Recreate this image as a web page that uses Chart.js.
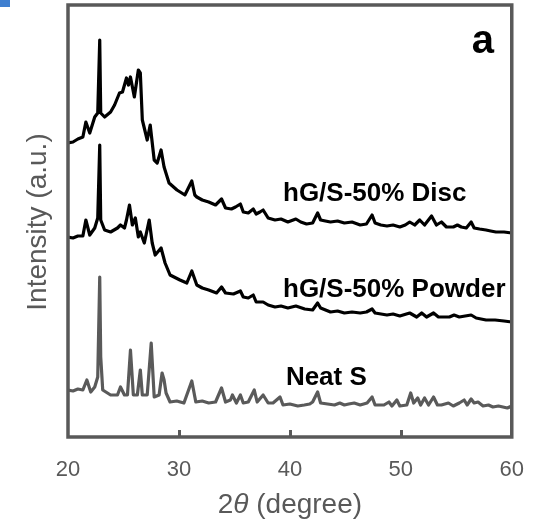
<!DOCTYPE html>
<html>
<head>
<meta charset="utf-8">
<script src="https://cdn.jsdelivr.net/npm/chart.js@4.4.1/dist/chart.umd.min.js"></script>
<style>
  html, body { margin: 0; padding: 0; background: #ffffff; }
  #wrap { width: 544px; height: 524px; position: relative; }
</style>
</head>
<body>
<div id="wrap"><canvas id="c" width="544" height="524"></canvas></div>
<script>
// ---- data (2θ in degrees, intensity in arbitrary units, curves already offset) ----
const xTicks = [20, 30, 40, 50, 60];

const discX = [20.00,20.45,20.89,21.34,21.61,21.96,22.41,22.68,22.86,22.95,23.30,23.84,24.20,24.64,24.91,25.27,25.45,25.63,25.98,26.34,26.52,26.70,27.14,27.41,27.77,28.04,28.39,28.66,29.11,29.82,30.54,31.16,31.43,31.61,32.10,32.68,33.30,33.84,34.20,34.73,35.10,35.54,35.80,36.25,36.70,36.96,37.30,37.59,38.04,38.66,39.20,39.82,40.54,40.98,41.50,42.05,42.50,42.77,43.20,43.66,44.30,44.91,45.60,46.34,46.90,47.41,47.68,48.20,48.75,49.30,49.91,50.40,50.80,51.25,51.70,52.14,52.77,53.21,53.66,54.11,54.73,55.10,55.45,55.90,56.34,56.61,57.10,57.68,58.10,58.57,59.30,60.00];
const discY = [294,295,298,300,315,304,320,324,397,324,320,325,332,344,345,359,352,360,340,367,364,317,297,312,277,274,287,270,254,247,242,256,242,240,237,235,232,238,229,228,230,233,225,224,228,223,225,227,219,217,218,215,218,215,213,214,224,217,216,215,216,214,215,212,213,222,214,212,211,212,210,212,215,212,217,212,221,212,215,210,210,212,210,209,215,209,208,207,206,205,205,204];

const powderX = [20.00,20.45,20.89,21.34,21.61,21.96,22.41,22.68,22.86,22.95,23.30,23.84,24.46,24.73,25.09,25.27,25.54,25.80,26.07,26.34,26.52,26.88,27.32,27.59,27.86,28.39,28.75,29.20,30.09,30.71,31.16,31.61,32.10,32.68,33.39,33.84,34.20,34.91,35.54,35.80,36.25,36.70,36.96,37.59,38.04,38.66,39.20,39.82,40.54,41.34,42.05,42.50,42.77,43.66,44.30,44.91,45.60,46.34,46.90,47.41,47.68,48.75,49.30,49.91,50.80,51.43,51.88,52.32,52.95,53.39,54.38,54.80,55.27,55.80,56.34,56.79,57.68,58.50,59.30,60.00];
const powderY = [200,199,201,201,217,202,209,219,292,217,207,205,209,212,209,217,232,212,219,200,205,194,217,194,182,189,174,162,157,154,166,152,149,147,144,150,144,143,146,140,139,142,135,135,132,130,131,129,131,128,127,134,129,125,126,124,125,124,125,128,124,122,123,121,124,120,124,120,124,120,120,122,120,121,122,119,117,117,116,115];

const neatX = [20.00,20.45,20.89,21.34,21.70,22.05,22.41,22.68,22.86,22.95,23.13,23.84,24.46,24.73,25.09,25.36,25.63,25.89,26.25,26.52,26.70,27.14,27.50,27.77,28.21,28.48,28.66,28.84,29.20,29.80,30.45,31.16,31.52,32.10,32.68,33.30,33.84,34.20,34.64,34.82,35.18,35.54,35.80,36.25,36.79,37.05,37.59,38.04,38.48,39.11,39.38,40.00,40.71,41.30,41.79,42.05,42.50,42.77,43.40,44.02,44.50,44.91,45.30,45.80,46.34,46.96,47.41,47.68,48.48,48.93,49.20,49.64,49.91,50.54,50.89,51.16,51.52,51.79,52.14,52.50,52.95,53.30,53.66,54.29,54.73,55.27,55.71,55.98,56.34,56.61,56.96,57.41,57.90,58.30,58.80,59.20,59.60,60.00];
const neatY = [47,46,48,47,57,45,50,60,160,80,47,42,42,50,42,42,87,42,42,67,42,42,94,40,42,64,57,44,35,36,34,56,35,36,34,35,49,35,37,42,34,42,34,35,47,35,42,34,34,40,32,33,31,32,33,35,45,34,33,32,34,32,33,34,32,34,40,32,32,35,31,37,31,32,44,34,39,32,39,32,40,32,32,34,31,34,37,32,38,34,35,31,32,30,31,30,29,31];

const seriesNames = ['hG/S-50% Disc', 'hG/S-50% Powder', 'Neat S'];
const labelX = [39.38, 39.38, 39.64];   // 2θ where each label starts
const labelY = [236, 140, 52];          // intensity at label baseline
const panelLetter = 'a';
const panelX = 56.4, panelY = 384;

const xTitleParts = ['2', 'θ', ' (degree)'];
const yTitle = 'Intensity (a.u.)';

const FONT = '"Liberation Sans", Arial, Helvetica, sans-serif';
const AXIS_GRAY = '#595959';

function pts(xs, ys) { return xs.map((x, i) => ({ x: x, y: ys[i] })); }

const decor = {
  id: 'decor',
  afterDatasetsDraw(chart) {
    const ctx = chart.ctx, a = chart.chartArea;
    const xs = chart.scales.x, ys = chart.scales.y;
    ctx.save();
    // small blue fragment at the top-left corner of the reference crop
    ctx.fillStyle = '#3f7fd0';
    ctx.fillRect(0, 0, 10, 7);
    // inner tick marks on the bottom axis
    ctx.strokeStyle = AXIS_GRAY; ctx.lineWidth = 3;
    xTicks.slice(1, -1).forEach(v => {
      const px = Math.round(xs.getPixelForValue(v)) + 0.5;
      ctx.beginPath(); ctx.moveTo(px, a.bottom); ctx.lineTo(px, a.bottom - 7); ctx.stroke();
    });
    // frame
    ctx.lineWidth = 3.5;
    ctx.strokeRect(a.left, a.top, a.right - a.left, a.bottom - a.top);
    // series labels
    ctx.fillStyle = '#000';
    ctx.textBaseline = 'alphabetic'; ctx.textAlign = 'left';
    ctx.font = 'bold 26px ' + FONT;
    seriesNames.forEach((s, i) => {
      ctx.fillText(s, xs.getPixelForValue(labelX[i]), ys.getPixelForValue(labelY[i]));
    });
    ctx.font = 'bold 40px ' + FONT;
    ctx.fillText(panelLetter, xs.getPixelForValue(panelX), ys.getPixelForValue(panelY));
    // axis titles
    ctx.fillStyle = AXIS_GRAY;
    const cx = (a.left + a.right) / 2;
    const fonts = ['28px ' + FONT, 'italic 28px ' + FONT, '28px ' + FONT];
    let widths = xTitleParts.map((t, i) => { ctx.font = fonts[i]; return ctx.measureText(t).width; });
    let total = widths.reduce((p, q) => p + q, 0);
    let x0 = cx - total / 2;
    ctx.textBaseline = 'middle';
    xTitleParts.forEach((t, i) => { ctx.font = fonts[i]; ctx.fillText(t, x0, 505); x0 += widths[i]; });
    ctx.save();
    ctx.translate(38, 222);
    ctx.rotate(-Math.PI / 2);
    ctx.textAlign = 'center';
    ctx.font = '28px ' + FONT;
    ctx.fillText(yTitle, 0, 0);
    ctx.restore();
    ctx.restore();
  }
};

new Chart(document.getElementById('c'), {
  type: 'line',
  data: {
    datasets: [
      { label: seriesNames[0], data: pts(discX, discY), borderColor: '#000000', borderWidth: 3.2 },
      { label: seriesNames[1], data: pts(powderX, powderY), borderColor: '#000000', borderWidth: 3.2 },
      { label: seriesNames[2], data: pts(neatX, neatY), borderColor: '#5a5a5a', borderWidth: 3.2 }
    ]
  },
  options: {
    responsive: false,
    animation: false,
    events: [],
    elements: { point: { radius: 0 }, line: { tension: 0, borderJoinStyle: 'round', borderCapStyle: 'round' } },
    layout: { padding: { top: 5, right: 28, left: 0, bottom: 0 } },
    plugins: { legend: { display: false }, tooltip: { enabled: false } },
    scales: {
      x: {
        type: 'linear', min: 20, max: 60,
        afterBuildTicks: s => { s.ticks = xTicks.map(v => ({ value: v })); },
        afterFit: s => { s.height = 87; },
        grid: { display: false, drawTicks: false },
        border: { display: false },
        ticks: { color: AXIS_GRAY, font: { family: FONT, size: 22 }, padding: 20, maxRotation: 0 }
      },
      y: {
        type: 'linear', min: 0, max: 432,
        afterFit: s => { s.width = 68; },
        grid: { display: false, drawTicks: false },
        border: { display: false },
        ticks: { display: false }
      }
    }
  },
  plugins: [decor]
});
</script>
</body>
</html>
